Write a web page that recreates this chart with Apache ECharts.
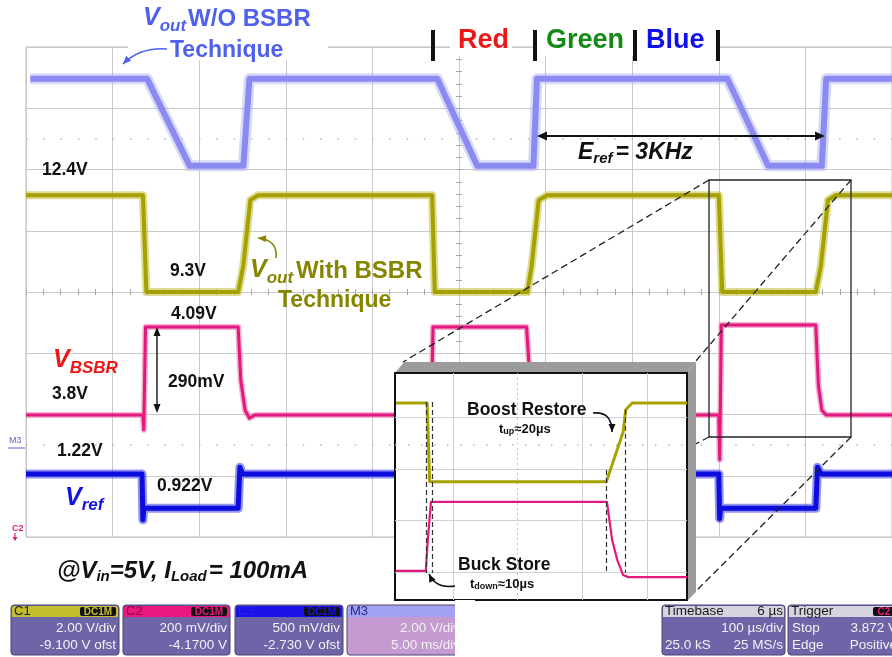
<!DOCTYPE html>
<html><head><meta charset="utf-8">
<script src="https://cdn.jsdelivr.net/npm/echarts@6/dist/echarts.min.js"></script>
<style>html,body{margin:0;padding:0;background:#fff}#c{width:892px;height:657px}</style>
</head><body><div id="c"></div>
<script>
// ---- main screen: time in µs (100 µs/div, 10 div), level in screen divisions (8 div) ----
const woBsbrTime  = [5,140,189,251,258,475,521,586,590,810,857,919,924,1000];
const woBsbrLevel = [7.48,7.48,6.06,6.06,7.48,7.48,6.06,6.06,7.48,7.48,6.06,6.06,7.48,7.48];

const withBsbrTime  = [0,135,139,245,251,259,268,469,472,579,584,592,602,800,804,912,918,926,935,1000];
const withBsbrLevel = [5.58,5.58,4.0,4.0,4.44,5.50,5.58,5.58,4.0,4.0,4.44,5.50,5.58,5.58,4.0,4.0,4.44,5.50,5.58,5.58];

const vbsbrTime  = [0,135,136,138,245,248,253,258,264,468,470,578,582,587,592,800,801,803,912,915,919,924,1000];
const vbsbrLevel = [1.99,1.99,1.75,3.43,3.43,2.56,2.07,1.94,1.99,1.99,3.43,3.43,2.56,2.07,1.99,1.99,1.26,3.46,3.46,2.48,2.07,1.99,1.99];

const vrefTime  = [0,134,135,136,245,247,250,255,468,469,470,578,580,584,800,801,802,912,914,918,1000];
const vrefLevel = [1.03,1.03,0.28,0.47,0.47,1.14,1.03,1.03,1.03,0.47,0.47,0.47,1.14,1.03,1.03,0.30,0.47,0.47,1.14,1.03,1.03];

const markerLevels = [6.51, 1.50];

// ---- inset (zoomed view), in inset divisions ----
const insetOliveU = [0.12,0.60,0.64,3.37,3.63,3.67,3.77,4.62];
const insetOliveV = [4.28,4.28,2.75,2.75,3.72,4.15,4.28,4.28];
const insetPinkU  = [0.12,0.58,0.61,0.66,3.38,3.46,3.54,3.63,3.71,4.62];
const insetPinkV  = [1.02,1.02,1.62,2.36,2.36,1.62,1.23,0.94,0.90,0.90];
const insetGridU = [1,2,3,4];
const insetGridV = [1,2,3,4];
const insetMarkU      = [0.58,0.68,3.37,3.67];
const insetMarkTop    = [4.30,4.30,2.98,4.15];
const insetMarkBottom = [0.98,0.98,0.98,0.98];

const zip = (a,b) => a.map((v,i)=>[v,b[i]]);
const FF = '"Liberation Sans", Arial, sans-serif';
const mctx = document.createElement('canvas').getContext('2d');
function fontStr(p){ return `${p.italic?'italic ':''}${p.weight||'bold'} ${p.size}px ${FF}`; }
function txt(s, x, y, p, color, z){
  return {type:'text', x, y, z: z||100, silent:true,
    style:{text:s, fill:color, font:fontStr(p), align:p.align||'left', textAlign:p.align||'left',
      verticalAlign:'middle', textVerticalAlign:'middle'}};
}
function seq(x, cy, parts, color){
  const out=[]; let cx=x;
  for(const p of parts){ mctx.font=fontStr(p); out.push(txt(p.t, cx, cy+(p.dy||0), p, color)); cx += mctx.measureText(p.t).width + (p.gap||0); }
  return out;
}
function head(x,y,ang,len,wid,color){
  const c=Math.cos(ang), s=Math.sin(ang);
  return {type:'polygon', z:100, silent:true, shape:{points:[[x,y],[x-len*c+wid*s, y-len*s-wid*c],[x-len*c-wid*s, y-len*s+wid*c]]}, style:{fill:color}};
}
function line(x1,y1,x2,y2,color,w,dash,z){
  return {type:'line', z:z||100, silent:true, shape:{x1,y1,x2,y2}, style:{stroke:color, lineWidth:w, lineDash:dash||null}};
}
function curveArrow(x1,y1,cx,cy,x2,y2,color){
  return [{type:'bezierCurve', z:100, silent:true, shape:{x1,y1,x2,y2,cpx1:cx,cpy1:cy}, style:{stroke:color, lineWidth:1.6, fill:'none'}},
          head(x2,y2,Math.atan2(y2-cy,x2-cx),8,3.5,color)];
}
function rect(x,y,w,h,fill,z,extra){
  return Object.assign({type:'rect', z:z||100, silent:true, shape:{x,y,width:w,height:h}, style:{fill}}, extra||{});
}
function panel(x,w,headCol,bodyCol,items){
  const g=[];
  g.push({type:'rect', z:50, silent:true, shape:{x,y:605,width:w,height:50,r:3}, style:{fill:bodyCol, stroke:'#4a4478', lineWidth:1}});
  g.push({type:'rect', z:51, silent:true, shape:{x:x+1,y:606,width:w-2,height:11,r:[2,2,0,0]}, style:{fill:headCol}});
  for(const it of items){ g.push(txt(it[0], it[1], it[2], {size:it[3]||13.5, weight:it[5]||'normal', align:it[6]||'left'}, it[4]||'#f2f2f2', 52)); }
  return g;
}
function badge(x,y,w,label,col){
  return [{type:'rect', z:52, silent:true, shape:{x,y,width:w,height:9,r:2}, style:{fill:'#111'}},
          txt(label, x+w/2, y+4.8, {size:10, weight:'bold', align:'center'}, col, 53)];
}

const chart = echarts.init(document.getElementById('c'), null, {renderer:'canvas'});

const grayGrid = '#c9c9c9';
function mainTrace(t,y,color,halo,w,hw,op){
  return [
    {type:'line', xAxisIndex:0, yAxisIndex:0, data:zip(t,y), symbol:'none', z:2, silent:true,
     lineStyle:{color:halo, width:hw, opacity:op, join:'round'}},
    {type:'line', xAxisIndex:0, yAxisIndex:0, data:zip(t,y), symbol:'none', z:2, silent:true,
     lineStyle:{color:color, width:w, join:'round'}}
  ];
}

const series = [
  ...mainTrace(woBsbrTime, woBsbrLevel, '#8a8af0', '#a9a9f4', 6, 11, 0.45),
  ...mainTrace(withBsbrTime, withBsbrLevel, '#a6a000', '#c2bd3a', 4, 8, 0.55),
  ...mainTrace(vbsbrTime, vbsbrLevel, '#e2187e', '#ee6aa8', 3, 6, 0.55),
  ...mainTrace(vrefTime, vrefLevel, '#0c0cdc', '#3a3ae8', 5, 9, 0.55),
  {type:'line', xAxisIndex:0, yAxisIndex:0, data:[], z:1, silent:true,
   markLine:{silent:true, symbol:'none', z:1, label:{show:false}, animation:false,
     lineStyle:{color:'#b5b5b5', width:1.5, type:[1.5,15.8]},
     data: markerLevels.map(v=>({yAxis:v}))}},
  // inset grid
  {type:'line', xAxisIndex:3, yAxisIndex:3, data:[], z:11, silent:true,
   markLine:{silent:true, symbol:'none', z:11, label:{show:false}, animation:false,
     lineStyle:{color:'#cfcfcf', width:1, type:'solid'},
     data: [...insetGridU.map(u=>({xAxis:u, lineStyle: u===2?{type:[2,3], color:'#c4c4c4'}:undefined})),
            ...insetGridV.map(v=>({yAxis:v})),
            {yAxis:3.47, lineStyle:{type:[1.5,11.5], color:'#b5b5b5', width:1.5}}]}},
  {type:'line', xAxisIndex:3, yAxisIndex:3, data:zip(insetOliveU, insetOliveV), symbol:'none', z:12, silent:true,
   lineStyle:{color:'#a8a200', width:3, join:'round'}},
  {type:'line', xAxisIndex:3, yAxisIndex:3, data:zip(insetPinkU, insetPinkV), symbol:'none', z:12, silent:true,
   lineStyle:{color:'#e2187e', width:2.2, join:'round'},
   markLine:{silent:true, symbol:'none', z:13, label:{show:false}, animation:false,
     lineStyle:{color:'#333', width:1.2, type:[5,3]},
     data: insetMarkU.map((u,i)=>[{coord:[u, insetMarkTop[i]]},{coord:[u, insetMarkBottom[i]]}])}}
];

const TITLE = '#4f60ee', OLIVE = '#858500', RED = '#ee1616', BLUE = '#1414e0', BLK = '#111';

const graphics = [
  rect(128,36,200,24,'#fff',1), rect(450,36,62,20,'#fff',1), rect(537,36,182,20,'#fff',1),
  rect(431,30,4,31,'#111',100), rect(533,30,4,31,'#111',100), rect(633,30,4,31,'#111',100), rect(716,30,4,31,'#111',100),
  txt('Red', 458, 41, {size:27}, RED), txt('Green', 546, 41, {size:27}, '#138a13'), txt('Blue', 646, 41, {size:27}, '#1010ee'),
  ...seq(143, 18, [{t:'V', size:25, italic:true},{t:'out', size:17, italic:true, dy:8, gap:2},{t:'W/O BSBR', size:24, dy:1}], TITLE),
  txt('Technique', 170, 51, {size:23}, TITLE),
  ...curveArrow(167,49,140,47,123,64,TITLE),
  line(545,136,817,136,BLK,2), head(537,136,Math.PI,10,4.5,BLK), head(825,136,0,10,4.5,BLK),
  ...seq(578, 153, [{t:'E', size:23, italic:true},{t:'ref', size:15, italic:true, dy:6, gap:3},{t:'= 3KHz', size:23, italic:true}], BLK),
  txt('12.4V', 42, 170, {size:17.5}, BLK),
  txt('9.3V', 170, 271, {size:17.5}, BLK),
  ...seq(250, 270, [{t:'V', size:25, italic:true},{t:'out', size:17, italic:true, dy:8, gap:3},{t:'With BSBR', size:24, dy:1}], OLIVE),
  txt('Technique', 278, 301, {size:23}, OLIVE),
  ...curveArrow(276,258,278,240,258,238,OLIVE),
  txt('4.09V', 171, 314, {size:17.5}, BLK),
  ...seq(53, 360, [{t:'V', size:25, italic:true},{t:'BSBR', size:17, italic:true, dy:8}], RED),
  txt('3.8V', 52, 394, {size:17.5}, BLK),
  txt('290mV', 168, 382, {size:17.5}, BLK),
  line(157,335,157,405,BLK,1.4), head(157,327,-Math.PI/2,9,3.5,BLK), head(157,413,Math.PI/2,9,3.5,BLK),
  txt('1.22V', 57, 451, {size:17.5}, BLK),
  txt('0.922V', 157, 486, {size:17.5}, BLK),
  ...seq(65, 498, [{t:'V', size:25, italic:true},{t:'ref', size:17, italic:true, dy:7}], BLUE),
  ...seq(57, 571, [{t:'@V', size:24, italic:true},{t:'in', size:15, italic:true, dy:6},{t:'=5V, I', size:24, italic:true},{t:'Load', size:15, italic:true, dy:6, gap:2},{t:'= 100mA', size:24, italic:true}], BLK),
  txt('M3', 9, 441, {size:9, weight:'normal'}, '#6060d0'), line(8,448,25,448,'#6060d0',1),
  txt('C2', 12, 529, {size:9, weight:'bold'}, '#e2187e'), line(15,533,15,538,'#e2187e',1.2), head(15,541,Math.PI/2,4,2.5,'#e2187e'),
  {type:'rect', z:5, silent:true, shape:{x:709,y:180,width:142,height:257}, style:{fill:'none', stroke:'#222', lineWidth:1.3}},
  line(709,180,403,362,'#222',1.3,[7,4],5), line(851,180,695,362,'#222',1.3,[7,4],5),
  line(851,437,695,592,'#222',1.3,[7,4],5), line(709,437,395,600,'#222',1.3,[7,4],5),
  {type:'polygon', z:9, silent:true, shape:{points:[[395,373],[404,362],[696,362],[687,373]]}, style:{fill:'#9c9c9c'}},
  {type:'polygon', z:9, silent:true, shape:{points:[[687,373],[696,362],[696,592],[687,601]]}, style:{fill:'#9c9c9c'}},
  txt('Boost Restore', 467, 410, {size:17.5}, BLK),
  ...seq(499, 429, [{t:'t', size:13},{t:'up', size:9, dy:3},{t:'≈20µs', size:13}], BLK),
  ...curveArrow(593,413,612,411,612,432,BLK),
  txt('Buck Store', 458, 565, {size:17.5}, BLK),
  ...seq(470, 584, [{t:'t', size:13},{t:'down', size:9, dy:3},{t:'≈10µs', size:13}], BLK),
  ...curveArrow(455,586,436,589,429,574,BLK),
  ...panel(11,108,'#c4bd2e','#6e64a8',[['C1',14,611,13,'#1a1a1a'],['2.00 V/div',116,628,13.5,null,null,'right'],['-9.100 V ofst',116,645,13.5,null,null,'right']]),
  ...badge(80,607,36,'DC1M','#c4bd2e'),
  ...panel(123,107,'#e8187e','#6e64a8',[['C2',126,611,13,'#8a0a4a'],['200 mV/div',227,628,13.5,null,null,'right'],['-4.1700 V',227,645,13.5,null,null,'right']]),
  ...badge(191,607,36,'DC1M','#e8187e'),
  ...panel(235,108,'#1a12e6','#6e64a8',[['C3',238,611,13,'#2a22f0'],['500 mV/div',340,628,13.5,null,null,'right'],['-2.730 V ofst',340,645,13.5,null,null,'right']]),
  ...badge(304,607,36,'DC1M','#1a12e6'),
  ...panel(347,120,'#a2a2f4','#c49ad0',[['M3',350,611,13,'#2a2a80'],['2.00 V/div',460,628,13.5,null,null,'right'],['5.00 ms/div',460,645,13.5,null,null,'right']]),
  rect(455,600,20,57,'#fff',60),
  ...panel(662,123,'#d4d4de','#6e64a8',[['Timebase',665,611,13.5,'#1a1a1a'],['6 µs',783,611,13.5,'#1a1a1a',null,'right'],['100 µs/div',783,628,13.5,null,null,'right'],['25.0 kS',665,645],['25 MS/s',783,645,13.5,null,null,'right']]),
  ...panel(788,110,'#d4d4de','#6e64a8',[['Trigger',791,611,13.5,'#1a1a1a'],['Stop',792,628],['3.872 V',897,628,13.5,null,null,'right'],['Edge',792,645],['Positive',897,645,13.5,null,null,'right']]),
  ...badge(873,607,22,'C2','#e8187e')
];

const option = {
  animation:false,
  backgroundColor:'#fff',
  grid:[
    {left:26, top:47, width:866, height:490, show:true, borderColor:'#bdbdbd', borderWidth:1, backgroundColor:'transparent', z:0},
    {left:395, top:373, width:292, height:227, show:true, backgroundColor:'#fff', borderColor:'#111', borderWidth:2, z:10}
  ],
  xAxis:[
    {gridIndex:0, type:'value', min:0, max:1000, interval:100, position:'bottom', axisLine:{show:false}, axisTick:{show:false}, axisLabel:{show:false}, splitLine:{show:true, lineStyle:{color:grayGrid, width:1}}},
    {gridIndex:0, type:'value', min:0, max:1000, interval:100, position:'bottom', offset:-245, axisLine:{show:false}, axisTick:{show:true, length:3, lineStyle:{color:'#aaa'}}, minorTick:{show:true, splitNumber:5, length:3, lineStyle:{color:'#aaa'}}, axisLabel:{show:false}, splitLine:{show:false}},
    {gridIndex:0, type:'value', min:0, max:1000, interval:100, position:'top', offset:-245, axisLine:{show:false}, axisTick:{show:true, length:3, lineStyle:{color:'#aaa'}}, minorTick:{show:true, splitNumber:5, length:3, lineStyle:{color:'#aaa'}}, axisLabel:{show:false}, splitLine:{show:false}},
    {gridIndex:1, type:'value', min:0.1036, max:4.617, show:false}
  ],
  yAxis:[
    {gridIndex:0, type:'value', min:0, max:8, interval:1, position:'left', axisLine:{show:false}, axisTick:{show:false}, axisLabel:{show:false}, splitLine:{show:true, lineStyle:{color:grayGrid, width:1}}},
    {gridIndex:0, type:'value', min:0, max:8, interval:1, position:'left', offset:-433, axisLine:{show:false}, axisTick:{show:true, length:3, lineStyle:{color:'#aaa'}}, minorTick:{show:true, splitNumber:5, length:3, lineStyle:{color:'#aaa'}}, axisLabel:{show:false}, splitLine:{show:false}},
    {gridIndex:0, type:'value', min:0, max:8, interval:1, position:'right', offset:-433, axisLine:{show:false}, axisTick:{show:true, length:3, lineStyle:{color:'#aaa'}}, minorTick:{show:true, splitNumber:5, length:3, lineStyle:{color:'#aaa'}}, axisLabel:{show:false}, splitLine:{show:false}},
    {gridIndex:1, type:'value', min:0.456, max:4.864, show:false}
  ],
  series,
  graphic:{elements:graphics}
};
chart.setOption(option);
</script></body></html>
